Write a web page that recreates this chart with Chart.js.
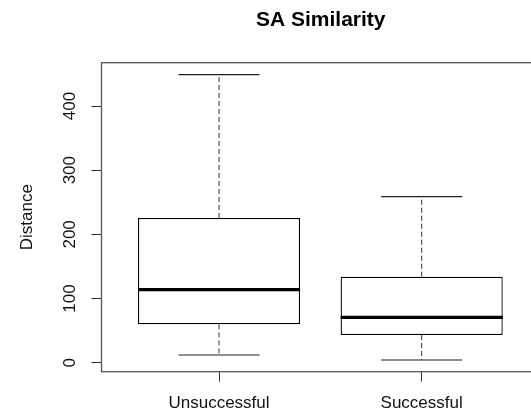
<!DOCTYPE html>
<html>
<head>
<meta charset="utf-8">
<script src="https://cdn.jsdelivr.net/npm/chart.js@4.4.1/dist/chart.umd.min.js"></script>
<style>
  html, body { margin: 0; padding: 0; background: #fff; overflow: hidden; }
  #wrap { width: 531px; height: 413px; overflow: hidden; }
</style>
</head>
<body>
<div id="wrap"><canvas id="chart" width="540" height="413"></canvas></div>
<script>
// box plot summary per group
const categories = ["Unsuccessful", "Successful"];
const whiskerLow = [12, 4.2];
const quartile1 = [59.8, 43.2];
const medians = [113.8, 70.7];
const quartile3 = [225.5, 134];
const whiskerHigh = [448.8, 258.7];
const yTicks = [0, 100, 200, 300, 400];

const BOX_HALF = 0.4;
const CAP_HALF = 0.2;

// helpers to turn the arrays into line segments, null y breaks the line
const hSegments = (vals, half) => {
  const out = [];
  vals.forEach((v, i) => {
    const x = i + 1;
    out.push({ x: x - half, y: v }, { x: x + half, y: v }, { x: x + 0.5, y: null });
  });
  return out;
};
const whiskers = [];
categories.forEach((c, i) => {
  const x = i + 1;
  whiskers.push({ x, y: quartile3[i] }, { x, y: whiskerHigh[i] }, { x, y: null });
  whiskers.push({ x, y: quartile1[i] }, { x, y: whiskerLow[i] }, { x, y: null });
});

const frame = {
  id: "frame",
  afterDraw(chart) {
    const { ctx, chartArea: a } = chart;
    ctx.save();
    ctx.strokeStyle = "#555";
    ctx.lineWidth = 1.3;
    ctx.strokeRect(a.left, a.top, a.right - a.left, a.bottom - a.top);
    ctx.restore();
  },
};

Chart.defaults.font.family = "'Liberation Sans', Arial, sans-serif";
Chart.defaults.color = "#111";

new Chart(document.getElementById("chart"), {
  type: "bar",
  data: {
    datasets: [
      {
        type: "bar",
        data: categories.map((c, i) => ({ x: i + 1, y: [quartile1[i], quartile3[i]] })),
        backgroundColor: "#fff",
        borderColor: "#000",
        borderWidth: 1.3,
        borderSkipped: false,
        categoryPercentage: 0.8,
        barPercentage: 1,
        order: 3,
      },
      {
        type: "line",
        data: whiskers,
        borderColor: "#333",
        borderWidth: 1,
        borderDash: [5, 3],
        pointRadius: 0,
        spanGaps: false,
        order: 2,
      },
      {
        type: "line",
        data: hSegments(whiskerHigh, CAP_HALF).concat(hSegments(whiskerLow, CAP_HALF)),
        borderColor: "#222",
        borderWidth: 1.2,
        pointRadius: 0,
        spanGaps: false,
        order: 1,
      },
      {
        type: "line",
        data: hSegments(medians, BOX_HALF),
        borderColor: "#000",
        borderWidth: 3.2,
        borderCapStyle: "butt",
        pointRadius: 0,
        spanGaps: false,
        order: 0,
      },
    ],
  },
  options: {
    responsive: false,
    animation: false,
    layout: { padding: 0 },
    plugins: {
      legend: { display: false },
      tooltip: { enabled: false },
      title: {
        display: true,
        text: "SA Similarity",
        fullSize: false,
        color: "#000",
        font: { size: 21, weight: "bold" },
        padding: { top: 8, bottom: 29.5 },
      },
    },
    scales: {
      x: {
        type: "linear",
        offset: false,
        min: 0.42,
        max: 2.584,
        afterBuildTicks: (s) => { s.ticks = categories.map((c, i) => ({ value: i + 1 })); },
        afterFit: (s) => { s.height = 41.3; },
        ticks: {
          autoSkip: false,
          maxRotation: 0,
          padding: 11.4,
          font: { size: 17 },
          callback: (v) => categories[v - 1],
        },
        grid: { offset: false, drawOnChartArea: false, tickLength: 10, color: "#333" },
        border: { display: false },
      },
      y: {
        type: "linear",
        min: -14,
        max: 467.5,
        afterBuildTicks: (s) => { s.ticks = yTicks.map((v) => ({ value: v })); },
        afterFit: (s) => { s.width = 101.5; },
        ticks: {
          minRotation: 90,
          maxRotation: 90,
          crossAlign: "center",
          padding: 7.3,
          font: { size: 17 },
        },
        grid: { drawOnChartArea: false, tickLength: 10, color: "#333" },
        border: { display: false },
        title: {
          display: true,
          text: "Distance",
          font: { size: 17 },
          padding: { top: 17.5, bottom: 0 },
        },
      },
    },
  },
  plugins: [frame],
});
</script>
</body>
</html>
